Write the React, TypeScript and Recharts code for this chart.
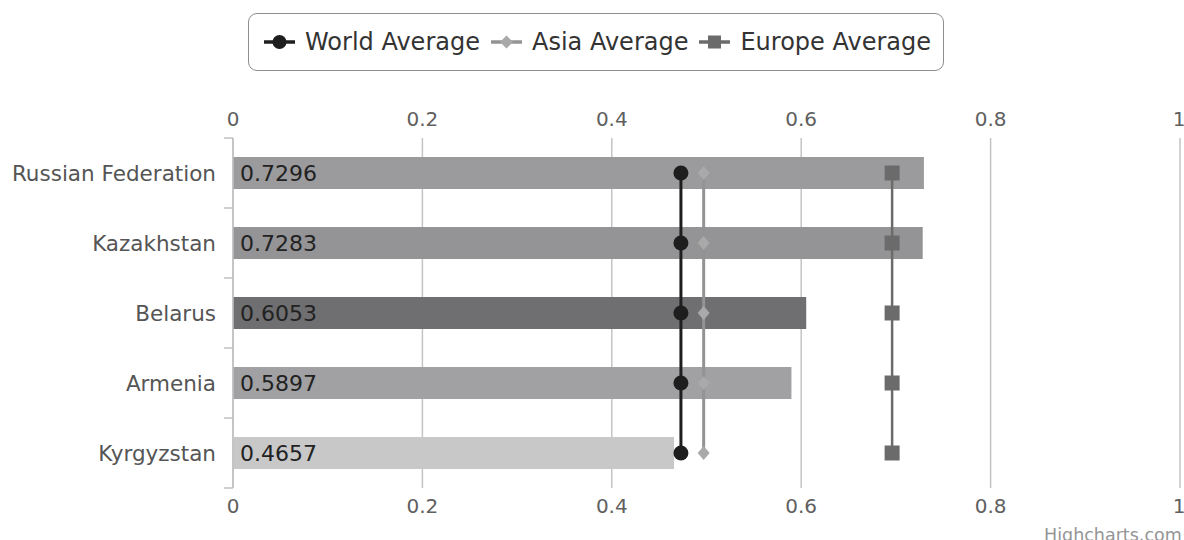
import { Bar, CartesianGrid, Cell, ComposedChart, LabelList, Legend, Line, XAxis, YAxis } from "recharts";

const countries = ["Russian Federation", "Kazakhstan", "Belarus", "Armenia", "Kyrgyzstan"];
const scores = [0.7296, 0.7283, 0.6053, 0.5897, 0.4657];
const barColors = ["#9b9b9d", "#949496", "#6f6f71", "#a1a1a3", "#c8c8c9"];
const worldAverage = [0.473, 0.473, 0.473, 0.473, 0.473];
const asiaAverage = [0.497, 0.497, 0.497, 0.497, 0.497];
const europeAverage = [0.696, 0.696, 0.696, 0.696, 0.696];
const xTicks = [0, 0.2, 0.4, 0.6, 0.8, 1];

const data = countries.map((name, i) => ({
  name,
  score: scores[i],
  world: worldAverage[i],
  asia: asiaAverage[i],
  europe: europeAverage[i],
}));

const WIDTH = 1184;
const HEIGHT = 540;
const PLOT_TOP = 138;
const PLOT_BOTTOM = 488;
const PLOT_LEFT = 233;
const BAND = (PLOT_BOTTOM - PLOT_TOP) / countries.length;
const FONT = "'DejaVu Sans', Verdana, sans-serif";

const WORLD = "#1e1e1e";
const ASIA = "#939393";
const ASIA_DOT = "#a9a9a9";
const EUROPE = "#6b6b6b";

function CountryTick(props: any) {
  const { y, payload, index } = props;
  return (
    <g>
      <line x1={PLOT_LEFT - 9} x2={PLOT_LEFT} y1={y - BAND / 2} y2={y - BAND / 2} stroke="#c0c0c0" strokeWidth={1.5} />
      {index === countries.length - 1 && (
        <line x1={PLOT_LEFT - 9} x2={PLOT_LEFT} y1={y + BAND / 2} y2={y + BAND / 2} stroke="#c0c0c0" strokeWidth={1.5} />
      )}
      <text x={PLOT_LEFT - 17} y={y} dy="0.35em" textAnchor="end" fill="#555" fontSize={21.5} fontFamily={FONT}>
        {payload.value}
      </text>
    </g>
  );
}

const circleDot = (props: any) => <circle key={props.index} cx={props.cx} cy={props.cy} r={7.5} fill={WORLD} />;

const diamondDot = (props: any) => {
  const { cx, cy } = props;
  return <path key={props.index} d={`M${cx},${cy - 7} L${cx + 6},${cy} L${cx},${cy + 7} L${cx - 6},${cy} Z`} fill={ASIA_DOT} />;
};

const squareDot = (props: any) => (
  <rect key={props.index} x={props.cx - 7.5} y={props.cy - 7.5} width={15} height={15} fill={EUROPE} />
);

function LegendMarker({ kind, color }: { kind: string; color: string }) {
  return (
    <svg width={33} height={18} style={{ display: "block" }}>
      <line x1={1} x2={32} y1={9} y2={9} stroke={color} strokeWidth={3.5} />
      {kind === "circle" && <circle cx={16.5} cy={9} r={7} fill={color} />}
      {kind === "diamond" && <path d="M16.5,2.5 L23,9 L16.5,15.5 L10,9 Z" fill={ASIA_DOT} />}
      {kind === "square" && <rect x={10} y={2.5} width={13} height={13} fill={color} />}
    </svg>
  );
}

const legendItems = [
  { label: "World Average", kind: "circle", color: WORLD },
  { label: "Asia Average", kind: "diamond", color: ASIA },
  { label: "Europe Average", kind: "square", color: EUROPE },
];

function renderLegend() {
  return (
    <div
      style={{
        boxSizing: "border-box",
        width: 696,
        height: 58,
        border: "1.5px solid #8e8e8e",
        borderRadius: 9,
        display: "flex",
        alignItems: "center",
        paddingLeft: 14,
        fontFamily: FONT,
        fontSize: 24,
        color: "#333",
        whiteSpace: "nowrap",
      }}
    >
      {legendItems.map((item) => (
        <div key={item.label} style={{ display: "flex", alignItems: "center", marginRight: 10 }}>
          <LegendMarker kind={item.kind} color={item.color} />
          <span style={{ marginLeft: 9 }}>{item.label}</span>
        </div>
      ))}
    </div>
  );
}

export default function App() {
  return (
    <div
      style={{
        position: "absolute",
        left: 0,
        top: 0,
        width: WIDTH,
        height: HEIGHT,
        overflow: "hidden",
        background: "#fff",
        fontFamily: FONT,
      }}
    >
      <ComposedChart
        layout="vertical"
        width={WIDTH}
        height={HEIGHT}
        data={data}
        margin={{ top: 0, right: WIDTH - 1180, bottom: 0, left: 0 }}
      >
        <CartesianGrid horizontal={false} stroke="#c4c4c4" strokeWidth={1.5} />
        <XAxis
          xAxisId="top"
          orientation="top"
          type="number"
          domain={[0, 1]}
          ticks={xTicks}
          height={PLOT_TOP}
          axisLine={false}
          tickLine={false}
          tickMargin={6}
          tick={{ fill: "#606060", fontSize: 20, fontFamily: FONT }}
        />
        <XAxis
          type="number"
          domain={[0, 1]}
          ticks={xTicks}
          height={HEIGHT - PLOT_BOTTOM}
          axisLine={false}
          tickLine={false}
          tickMargin={5}
          tick={{ fill: "#606060", fontSize: 20, fontFamily: FONT }}
        />
        <YAxis
          type="category"
          dataKey="name"
          width={PLOT_LEFT}
          axisLine={{ stroke: "#c0c0c0", strokeWidth: 1.5 }}
          tickLine={false}
          tick={<CountryTick />}
        />
        <Legend verticalAlign="middle" align="center" wrapperStyle={{ top: 13, left: 248, width: 696 }} content={renderLegend} />
        <Bar xAxisId="top" dataKey="score" barSize={32} isAnimationActive={false}>
          {data.map((entry, i) => (
            <Cell key={entry.name} fill={barColors[i]} />
          ))}
          <LabelList dataKey="score" position="insideLeft" offset={7} fill="#222" fontSize={22} fontFamily={FONT} />
        </Bar>
        <Line dataKey="asia" stroke={ASIA} strokeWidth={3} dot={diamondDot} activeDot={false} isAnimationActive={false} />
        <Line dataKey="europe" stroke={EUROPE} strokeWidth={2.5} dot={squareDot} activeDot={false} isAnimationActive={false} />
        <Line dataKey="world" stroke={WORLD} strokeWidth={3} dot={circleDot} activeDot={false} isAnimationActive={false} />
      </ComposedChart>
      <div style={{ position: "absolute", left: 1044, top: 525, fontSize: 17.5, color: "#959595", whiteSpace: "nowrap" }}>
        Highcharts.com
      </div>
    </div>
  );
}
